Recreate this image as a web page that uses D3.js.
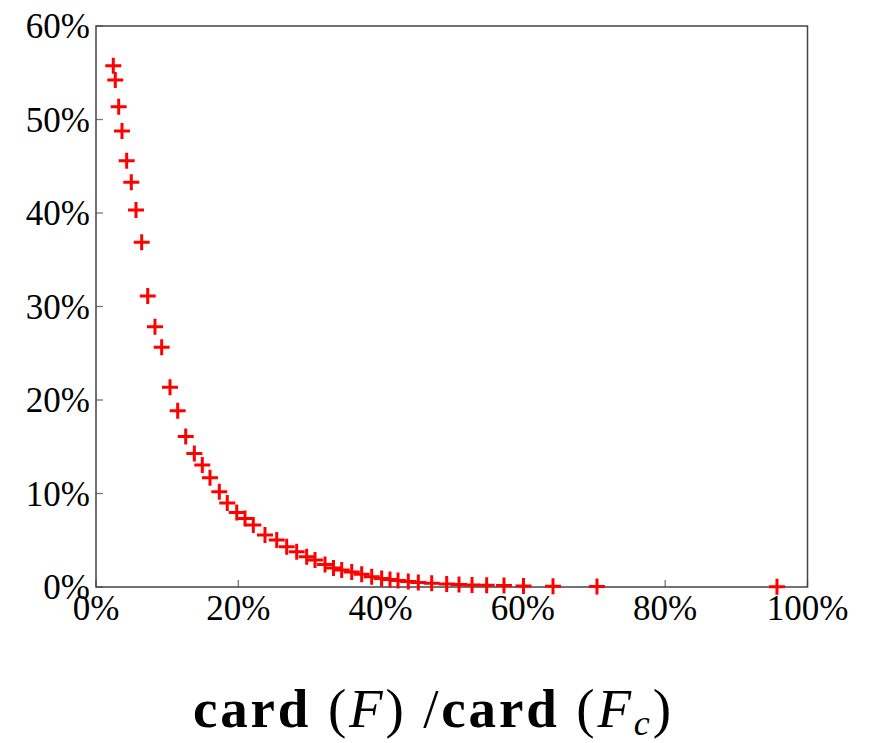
<!DOCTYPE html>
<html>
<head>
<meta charset="UTF-8">
<script src="https://d3js.org/d3.v7.min.js"></script>
<style>
  body { margin: 0; background: #fff; }
  svg { display: block; }
  .tick-label { font-family: 'Liberation Serif', serif; font-size: 35px; fill: #000; }
  .title { font-family: 'Liberation Serif', serif; font-size: 55px; fill: #000; }
</style>
</head>
<body>
<svg id="chart" width="871" height="743"></svg>
<script>
// ratio card(F)/card(Fc) in %, and the y value in %
const ratioX = [2.43, 2.71, 3.19, 3.65, 4.31, 4.96, 5.62, 6.42, 7.27, 8.29,
  9.23, 10.40, 11.48, 12.61, 13.82, 14.94, 16.02, 17.33, 18.45, 19.78,
  20.94, 22.11, 23.75, 25.40, 26.80, 28.21, 29.61, 30.78, 32.19, 33.38,
  34.53, 35.94, 37.34, 38.75, 40.15, 41.32, 42.45, 43.89, 45.30, 47.18,
  49.29, 51.02, 52.85, 54.91, 57.34, 60.08, 64.23, 70.41, 95.71];
const valueY = [55.75, 54.22, 51.37, 48.77, 45.59, 43.28, 40.32, 36.87, 31.12, 27.84,
  25.64, 21.36, 18.86, 16.10, 14.28, 13.05, 11.69, 10.19, 8.98, 7.97,
  7.33, 6.63, 5.56, 5.03, 4.31, 3.78, 3.24, 2.89, 2.41, 2.03,
  1.82, 1.60, 1.36, 1.10, 0.91, 0.80, 0.70, 0.59, 0.48, 0.40,
  0.32, 0.27, 0.21, 0.18, 0.15, 0.11, 0.07, 0.05, 0.03];
const xTicks = [0, 20, 40, 60, 80, 100];
const yTicks = [0, 10, 20, 30, 40, 50, 60];

const svg = d3.select("#chart");
const pLeft = 96, pRight = 807.5, pTop = 26, pBottom = 587;

const x = d3.scaleLinear().domain([0, 100]).range([pLeft, pRight]);
const y = d3.scaleLinear().domain([0, 60]).range([pBottom, pTop]);

// inner ticks
svg.selectAll(".xt").data(xTicks).enter().append("line")
  .attr("x1", d => x(d)).attr("x2", d => x(d))
  .attr("y1", pBottom).attr("y2", pBottom - 7)
  .attr("stroke", "#777").attr("stroke-width", 1.3);
svg.selectAll(".yt").data(yTicks).enter().append("line")
  .attr("x1", pLeft).attr("x2", pLeft + 7)
  .attr("y1", d => y(d)).attr("y2", d => y(d))
  .attr("stroke", "#777").attr("stroke-width", 1.3);

// frame
svg.append("rect")
  .attr("x", pLeft).attr("y", pTop)
  .attr("width", pRight - pLeft).attr("height", pBottom - pTop)
  .attr("fill", "none").attr("stroke", "#444").attr("stroke-width", 1.5);

// tick labels
svg.selectAll(".xl").data(xTicks).enter().append("text")
  .attr("class", "tick-label")
  .attr("x", d => x(d)).attr("y", pBottom + 33)
  .attr("text-anchor", "middle")
  .text(d => d + "%");
svg.selectAll(".yl").data(yTicks).enter().append("text")
  .attr("class", "tick-label")
  .attr("x", pLeft - 6).attr("y", d => y(d) + 12)
  .attr("text-anchor", "end")
  .text(d => d + "%");

// markers
const pts = ratioX.map((v, i) => ({ x: v, y: valueY[i] }));
const m = svg.append("g").selectAll("g").data(pts).enter().append("g")
  .attr("transform", d => `translate(${x(d.x)},${y(d.y)})`);
m.append("path")
  .attr("d", "M-8,0H8M0,-8V8")
  .attr("stroke", "#ff0000").attr("stroke-width", 3).attr("fill", "none");

// x axis title
const t = svg.append("text").attr("class", "title")
  .attr("x", 193).attr("y", 727)
  .attr("textLength", 478).attr("lengthAdjust", "spacing");
t.append("tspan").attr("font-weight", "bold").text("card");
t.append("tspan").text(" (");
t.append("tspan").attr("font-style", "italic").text("F");
t.append("tspan").text(") /");
t.append("tspan").attr("font-weight", "bold").text("card");
t.append("tspan").text(" (");
t.append("tspan").attr("font-style", "italic").text("F");
t.append("tspan").attr("font-style", "italic").attr("font-size", "36px").attr("dy", 8).text("c");
t.append("tspan").attr("dy", -8).text(")");
</script>
</body>
</html>
